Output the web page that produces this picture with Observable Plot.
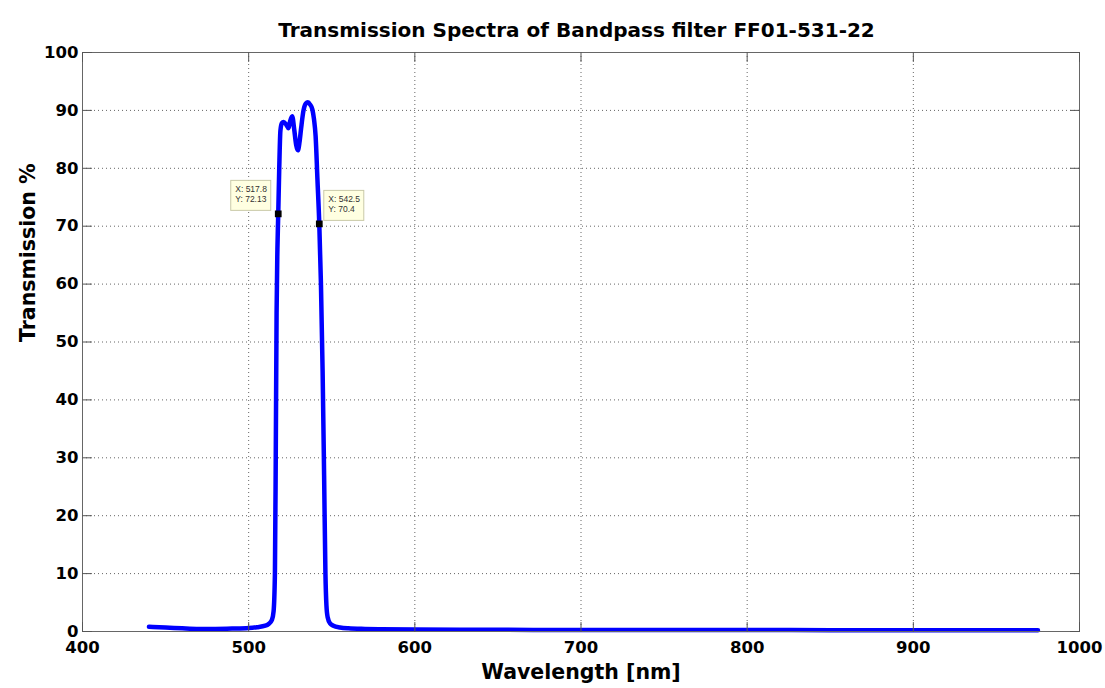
<!DOCTYPE html>
<html>
<head>
<meta charset="utf-8">
<script src="https://cdn.jsdelivr.net/npm/d3@7"></script>
<script src="https://cdn.jsdelivr.net/npm/@observablehq/plot@0.6"></script>
<style>
  body { margin: 0; background: #fff; }
  #title {
    box-sizing: border-box;
    width: 1105px; height: 42px;
    padding-top: 20px; padding-left: 48px;
    text-align: center;
    font-family: "DejaVu Sans", sans-serif;
    font-weight: bold; font-size: 20px; line-height: 20px;
    color: #000;
  }
</style>
</head>
<body>
<div id="title">Transmission Spectra of Bandpass filter FF01-531-22</div>
<div id="chart"></div>
<script>
// Data
const wavelength = [440, 450, 460, 470, 480, 490, 500, 505, 510, 512, 514, 515, 515.8, 516.3, 516.8, 517.3, 517.8, 518.4, 519.1, 520, 521, 522.5, 524, 525, 526.2, 527.5, 528.6, 529.6, 530.6, 531.6, 533, 534.4, 535.6, 537, 538.3, 539.3, 540.3, 541.4, 542.5, 543.5, 544.5, 545.4, 546.2, 546.8, 547.5, 549, 551, 555, 560, 570, 580, 600, 650, 700, 750, 800, 850, 900, 950, 975];
const transmission = [0.8, 0.7, 0.55, 0.45, 0.45, 0.5, 0.6, 0.75, 1.0, 1.3, 2.0, 3.5, 10, 30, 55, 66, 72.13, 80, 86.5, 87.8, 88, 87.6, 86.9, 88.2, 89, 86.5, 84, 83.1, 84.5, 87, 90, 91.2, 91.4, 91, 90.2, 88.5, 85.5, 78, 70.4, 60, 45, 27, 10, 4.5, 2.5, 1.4, 1.0, 0.7, 0.55, 0.45, 0.4, 0.35, 0.3, 0.25, 0.25, 0.25, 0.22, 0.2, 0.2, 0.2];
const xTicks = [400, 500, 600, 700, 800, 900, 1000];
const yTicks = [0, 10, 20, 30, 40, 50, 60, 70, 80, 90, 100];
const tipX = [517.8, 542.5];
const tipY = [72.13, 70.4];
const tipLabels = ["X: 517.8\nY: 72.13", "X: 542.5\nY: 70.4"];
const xLabel = "Wavelength [nm]";
const yLabel = "Transmission %";

const spectrum = wavelength.map((w, i) => ({w, t: transmission[i]}));
const tips = tipX.map((x, i) => ({x, y: tipY[i], label: tipLabels[i]}));

const tickShape = {draw(context, l) { context.moveTo(0, 0); context.lineTo(0, -l); }};
const tickOpts = {length: 9, anchor: "start", shape: tickShape, stroke: "#555", strokeWidth: 1};
const gridOpts = {stroke: "#333", strokeOpacity: 0.75, strokeDasharray: "1,3", strokeWidth: 1};
const boxStyle = {fill: "#ffffe1", stroke: "#c9c9a8", strokeWidth: 1};
const tipText = {x: "x", y: "y", text: "label", textAnchor: "start", lineAnchor: "top",
  fontSize: 8.5, fontFamily: "Liberation Sans, Arial, sans-serif", fill: "#333", lineHeight: 1.2, dy: -29};

const chart = Plot.plot({
  width: 1105,
  height: 646,
  marginLeft: 82,
  marginRight: 26,
  marginTop: 10,
  marginBottom: 57,
  style: {fontFamily: "DejaVu Sans, sans-serif", background: "#fff", overflow: "visible"},
  x: {domain: [400, 1000]},
  y: {domain: [0, 100]},
  marks: [
    Plot.ruleX(xTicks.slice(1, -1), gridOpts),
    Plot.ruleY(yTicks.slice(1, -1), gridOpts),
    Plot.line(spectrum, {x: "w", y: "t", stroke: "#0000ff", strokeWidth: 4.5, curve: "monotone-x", strokeLinejoin: "round", strokeLinecap: "round"}),
    Plot.rect([tips[0]], {x1: "x", x2: "x", y1: "y", y2: "y", insetLeft: -47, insetRight: 7, insetTop: -33, insetBottom: 3, ...boxStyle}),
    Plot.rect([tips[1]], {x1: "x", x2: "x", y1: "y", y2: "y", insetLeft: 5, insetRight: -45, insetTop: -33, insetBottom: 3, ...boxStyle}),
    Plot.text([tips[0]], {...tipText, dx: -43}),
    Plot.text([tips[1]], {...tipText, dx: 9}),
    Plot.dot(tips, {x: "x", y: "y", symbol: "square", fill: "#000", r: 3.8}),
    Plot.frame({stroke: "#666", strokeWidth: 1}),
    Plot.vector(xTicks, {x: d => d, frameAnchor: "bottom", rotate: 0, ...tickOpts}),
    Plot.vector(xTicks, {x: d => d, frameAnchor: "top", rotate: 180, ...tickOpts}),
    Plot.vector(yTicks, {y: d => d, frameAnchor: "left", rotate: 90, ...tickOpts}),
    Plot.vector(yTicks, {y: d => d, frameAnchor: "right", rotate: -90, ...tickOpts}),
    Plot.axisX({ticks: xTicks, tickFormat: d => String(d), tickSize: 0, tickPadding: 10, fontSize: 16.5, fontWeight: "bold", fill: "#000", label: null}),
    Plot.axisY({ticks: yTicks, tickFormat: d => String(d), tickSize: 0, tickPadding: 4, fontSize: 16.5, fontWeight: "bold", fill: "#000", label: null}),
    Plot.text([xLabel], {text: d => d, frameAnchor: "bottom", dy: 41, lineAnchor: "middle", fontSize: 20.5, fontWeight: "bold", fill: "#000"}),
    Plot.text([yLabel], {text: d => d, frameAnchor: "left", dx: -54, rotate: -90, lineAnchor: "middle", fontSize: 20.5, fontWeight: "bold", fill: "#000"})
  ]
});
document.getElementById("chart").appendChild(chart);
</script>
</body>
</html>
